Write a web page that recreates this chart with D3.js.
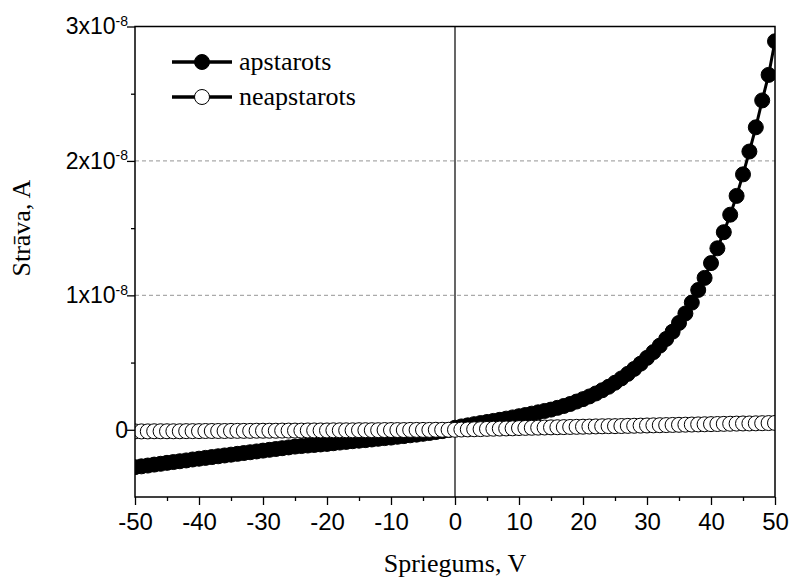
<!DOCTYPE html>
<html>
<head>
<meta charset="utf-8">
<script src="https://cdn.jsdelivr.net/npm/d3@7"></script>
<style>
  body { margin: 0; background: #fff; }
  .tick text { font-family: "Liberation Sans", Arial, sans-serif; }
  .serif { font-family: "Liberation Serif", "Times New Roman", serif; }
</style>
</head>
<body>
<div class="canvas"></div>
<script>
// voltage sweep, V
const voltage = [
  -50,-49,-48,-47,-46,-45,-44,-43,-42,-41,-40,-39,-38,-37,-36,-35,-34,-33,-32,-31,
  -30,-29,-28,-27,-26,-25,-24,-23,-22,-21,-20,-19,-18,-17,-16,-15,-14,-13,-12,-11,
  -10,-9,-8,-7,-6,-5,-4,-3,-2,-1,0,1,2,3,4,5,6,7,8,9,
  10,11,12,13,14,15,16,17,18,19,20,21,22,23,24,25,26,27,28,29,
  30,31,32,33,34,35,36,37,38,39,40,41,42,43,44,45,46,47,48,49,50
]

// current in units of 1e-8 A
const apstarots = [
  -0.278,-0.272,-0.266,-0.259,-0.253,-0.246,-0.240,-0.234,-0.228,-0.221,
  -0.215,-0.209,-0.203,-0.197,-0.191,-0.185,-0.179,-0.173,-0.167,-0.161,
  -0.155,-0.149,-0.143,-0.137,-0.131,-0.125,-0.121,-0.117,-0.113,-0.109,
  -0.105,-0.100,-0.095,-0.090,-0.085,-0.081,-0.077,-0.072,-0.067,-0.062,
  -0.058,-0.052,-0.047,-0.041,-0.036,-0.030,-0.024,-0.017,-0.010,-0.002,
  0.015,0.025,0.033,0.042,0.050,0.058,0.066,0.074,0.083,0.092,
  0.101,0.110,0.120,0.130,0.140,0.150,0.163,0.177,0.192,0.210,
  0.228,0.248,0.270,0.294,0.320,0.350,0.382,0.416,0.453,0.492,
  0.535,0.578,0.626,0.676,0.730,0.795,0.865,0.946,1.040,1.130,
  1.240,1.350,1.470,1.600,1.740,1.900,2.070,2.250,2.450,2.640,2.890
]

const neapstarots = [
  -0.012,-0.012,-0.012,-0.011,-0.011,-0.011,-0.011,-0.011,-0.010,-0.010,
  -0.010,-0.009,-0.009,-0.009,-0.009,-0.008,-0.008,-0.008,-0.008,-0.007,
  -0.007,-0.007,-0.007,-0.006,-0.006,-0.006,-0.006,-0.005,-0.005,-0.005,
  -0.005,-0.004,-0.004,-0.004,-0.004,-0.003,-0.003,-0.003,-0.003,-0.002,
  -0.002,-0.002,-0.002,-0.001,-0.001,-0.001,-0.001,0.000,0.000,0.000,
  0.000,0.002,0.003,0.004,0.005,0.007,0.008,0.009,0.010,0.011,
  0.013,0.014,0.015,0.016,0.017,0.018,0.019,0.020,0.021,0.022,
  0.023,0.024,0.025,0.026,0.027,0.027,0.028,0.029,0.030,0.031,
  0.032,0.033,0.034,0.035,0.036,0.037,0.038,0.039,0.040,0.041,
  0.042,0.043,0.044,0.045,0.046,0.047,0.047,0.048,0.049,0.050,0.051
]

const xTicks = [-50,-40,-30,-20,-10,0,10,20,30,40,50]
const xMinorTicks = [-45,-35,-25,-15,-5,5,15,25,35,45]
const yTicks = [0,1,2,3]
const yMinorTicks = [0.5,1.5,2.5]
const yGrid = [1,2]

const width = 790
const height = 579
const margin = {top: 26.5, right: 15, bottom: 82, left: 135}
const graphWidth = width - margin.left - margin.right
const graphHeight = height - margin.top - margin.bottom

const svg = d3.select(".canvas").append("svg").attr("width", width).attr("height", height)

const graph = svg.append("g")
    .attr("transform", `translate(${margin.left}, ${margin.top})`)

const x = d3.scaleLinear().domain([-50, 50]).range([0, graphWidth])
const y = d3.scaleLinear().domain([-0.5, 3]).range([graphHeight, 0])

svg.append("defs").append("clipPath").attr("id", "plotClip")
    .append("rect").attr("width", graphWidth).attr("height", graphHeight)

// grid
graph.selectAll(".grid").data(yGrid).enter().append("line")
    .attr("x1", 0).attr("x2", graphWidth)
    .attr("y1", d => y(d)).attr("y2", d => y(d))
    .attr("stroke", "#aaa").attr("stroke-width", 1.2)
    .attr("stroke-dasharray", "4,3")

// zero line
graph.append("line")
    .attr("x1", x(0)).attr("x2", x(0))
    .attr("y1", 0).attr("y2", graphHeight)
    .attr("stroke", "#000").attr("stroke-width", 1.2)

// data
const rows = voltage.map((v, i) => ({v, a: apstarots[i], n: neapstarots[i]}))
const plot = graph.append("g").attr("clip-path", "url(#plotClip)")

const drawSeries = (key, fill) => {
    const line = d3.line().x(d => x(d.v)).y(d => y(d[key]))
    plot.append("path").datum(rows)
        .attr("d", line).attr("fill", "none")
        .attr("stroke", "#000").attr("stroke-width", 3)
    plot.append("g").selectAll("circle").data(rows).enter().append("circle")
        .attr("cx", d => x(d.v)).attr("cy", d => y(d[key]))
        .attr("r", 7.5).attr("fill", fill)
        .attr("stroke", "#000").attr("stroke-width", 1)
}
drawSeries("a", "#000")
drawSeries("n", "#fff")

// axes
const xAxis = graph.append("g").attr("transform", `translate(0, ${graphHeight})`)
    .call(d3.axisBottom(x).tickValues(xTicks).tickSize(8).tickPadding(8).tickFormat(d => d))
graph.append("g").attr("transform", `translate(0, ${graphHeight})`)
    .call(d3.axisBottom(x).tickValues(xMinorTicks).tickSize(4).tickFormat(""))

const yAxis = graph.append("g")
    .call(d3.axisLeft(y).tickValues(yTicks).tickSize(8).tickPadding(6).tickFormat(""))
graph.append("g")
    .call(d3.axisLeft(y).tickValues(yMinorTicks).tickSize(4).tickFormat(""))

graph.selectAll(".domain").remove()
graph.selectAll(".tick line").attr("stroke", "#000").attr("stroke-width", 1.3)

xAxis.selectAll(".tick text").attr("font-size", 24).attr("fill", "#000")

yAxis.selectAll(".tick").each(function(d) {
    const t = d3.select(this).select("text")
        .attr("font-size", 23).attr("fill", "#000").attr("x", -7)
    if (d === 0) { t.text("0"); return }
    t.append("tspan").text(d + "x10")
    t.append("tspan").attr("dy", "-0.6em").attr("font-size", 14).text("-8")
})

// frame
graph.append("rect").attr("width", graphWidth).attr("height", graphHeight)
    .attr("fill", "none").attr("stroke", "#000").attr("stroke-width", 1.5)

// axis titles
svg.append("text").attr("class", "serif")
    .attr("x", margin.left + graphWidth / 2).attr("y", 572)
    .attr("text-anchor", "middle")
    .attr("font-size", 26).text("Spriegums, V")

svg.append("text").attr("class", "serif")
    .attr("transform", `translate(30, ${margin.top + y(1.5)}) rotate(-90)`)
    .attr("text-anchor", "middle")
    .attr("font-size", 26).text("Strāva, A")

// legend
const legendItems = [{label: "apstarots", fill: "#000"}, {label: "neapstarots", fill: "#fff"}]
const legend = svg.append("g").selectAll("g").data(legendItems).enter().append("g")
    .attr("transform", (d, i) => `translate(172, ${62 + i * 35})`)
legend.append("line").attr("x1", 0).attr("x2", 60)
    .attr("stroke", "#000").attr("stroke-width", 3.5)
legend.append("circle").attr("cx", 30).attr("r", 7.5)
    .attr("fill", d => d.fill).attr("stroke", "#000").attr("stroke-width", 1)
legend.append("text").attr("class", "serif").attr("x", 67).attr("dy", "0.3em")
    .attr("font-size", 26).text(d => d.label)
</script>
</body>
</html>
